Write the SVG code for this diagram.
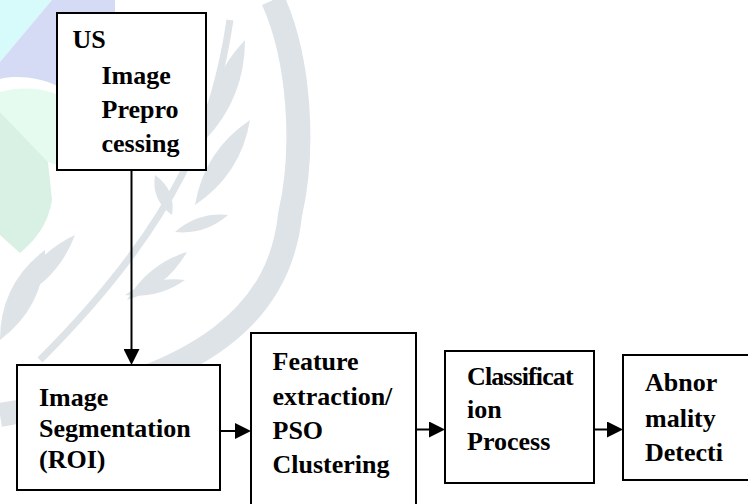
<svg xmlns="http://www.w3.org/2000/svg" width="748" height="504" viewBox="0 0 748 504">
<style>
.box{fill:#ffffff;stroke:#000000;stroke-width:2}
.lbl{font-weight:bold;font-size:26px;fill:#000000}
.conn{stroke:#000000;stroke-width:2;fill:none}
.wm{fill:#dee3e8}
</style>
<defs>
<marker id="arr" markerUnits="userSpaceOnUse" markerWidth="16" markerHeight="16" refX="12" refY="8" orient="auto">
<path d="M0,0 L16,8 L0,16 Z" fill="#000000"/>
</marker>
</defs>
<rect x="0" y="0" width="748" height="504" fill="#ffffff"/>
<g id="watermark">
<path d="M0,0 L52,0 L0,62 Z" fill="#d7fafa"/>
<path d="M52,0 L115,0 L115,100 L57,100 L57,86 C40,77 15,75 0,79 L0,62 Z" fill="#d6dbf5"/>
<path d="M0,92 C20,86 45,88 57,95 L57,165 L48,162 L0,112 Z" fill="#e6fbef"/>
<path d="M0,112 L48,162 L52,200 C48,225 35,240 20,253 L0,235 Z" fill="#d8f1e4"/>
<path d="M273,0 C300,60 305,150 290,215 C280,310 210,380 0,415" fill="none" stroke="#dee3e8" stroke-width="24"/>
<path d="M230,20 C215,120 180,220 40,360" fill="none" stroke="#dee3e8" stroke-width="7"/>
<path class="wm" d="M205,140 Q245,98 245,40 Q205,82 205,140 Z"/>
<path class="wm" d="M195,205 Q241,174 250,120 Q204,151 195,205 Z"/>
<path class="wm" d="M172,215 Q176,190 155,175 Q151,200 172,215 Z"/>
<path class="wm" d="M175,232 Q205,235 228,215 Q198,212 175,232 Z"/>
<path class="wm" d="M125,295 Q158,299 185,280 Q152,276 125,295 Z"/>
<path class="wm" d="M127,300 Q166,288 187,252 Q148,264 127,300 Z"/>
<path class="wm" d="M0,340 Q45,306 45,250 Q0,284 0,340 Z"/>
<path class="wm" d="M15,300 Q58,280 75,235 Q32,255 15,300 Z"/>
</g>
<g id="node-preprocessing" font-family="Liberation Serif, Times New Roman, serif">
<rect class="box" x="57" y="13" width="149" height="157"/>
<text class="lbl" x="72.5" y="48">US</text>
<text class="lbl" x="101.5" y="84">Image</text>
<text class="lbl" x="101.5" y="118">Prepro</text>
<text class="lbl" x="101.5" y="152">cessing</text>
</g>
<g id="node-segmentation" font-family="Liberation Serif, Times New Roman, serif">
<rect class="box" x="17" y="365" width="203" height="125"/>
<text class="lbl" x="39" y="406">Image</text>
<text class="lbl" x="39" y="437">Segmentation</text>
<text class="lbl" x="39" y="468">(ROI)</text>
</g>
<g id="node-feature" font-family="Liberation Serif, Times New Roman, serif">
<rect class="box" x="251" y="333" width="165" height="185"/>
<text class="lbl" x="272.5" y="370">Feature</text>
<text class="lbl" x="272.5" y="405">extraction/</text>
<text class="lbl" x="272.5" y="439">PSO</text>
<text class="lbl" x="272.5" y="473">Clustering</text>
</g>
<g id="node-classification" font-family="Liberation Serif, Times New Roman, serif">
<rect class="box" x="445" y="351" width="149" height="132"/>
<text class="lbl" x="467" y="385" letter-spacing="-0.9">Classificat</text>
<text class="lbl" x="467" y="418">ion</text>
<text class="lbl" x="467" y="450">Process</text>
</g>
<g id="node-abnormality" font-family="Liberation Serif, Times New Roman, serif">
<rect class="box" x="623" y="355" width="140" height="125"/>
<text class="lbl" x="645" y="391">Abnor</text>
<text class="lbl" x="645" y="427">mality</text>
<text class="lbl" x="645" y="461">Detecti</text>
</g>
<g id="connectors">
<line class="conn" x1="131.5" y1="170" x2="131.5" y2="361" marker-end="url(#arr)"/>
<line class="conn" x1="220" y1="431" x2="247" y2="431" marker-end="url(#arr)"/>
<line class="conn" x1="416" y1="429.5" x2="441" y2="429.5" marker-end="url(#arr)"/>
<line class="conn" x1="594" y1="429.5" x2="619" y2="429.5" marker-end="url(#arr)"/>
</g>
</svg>
